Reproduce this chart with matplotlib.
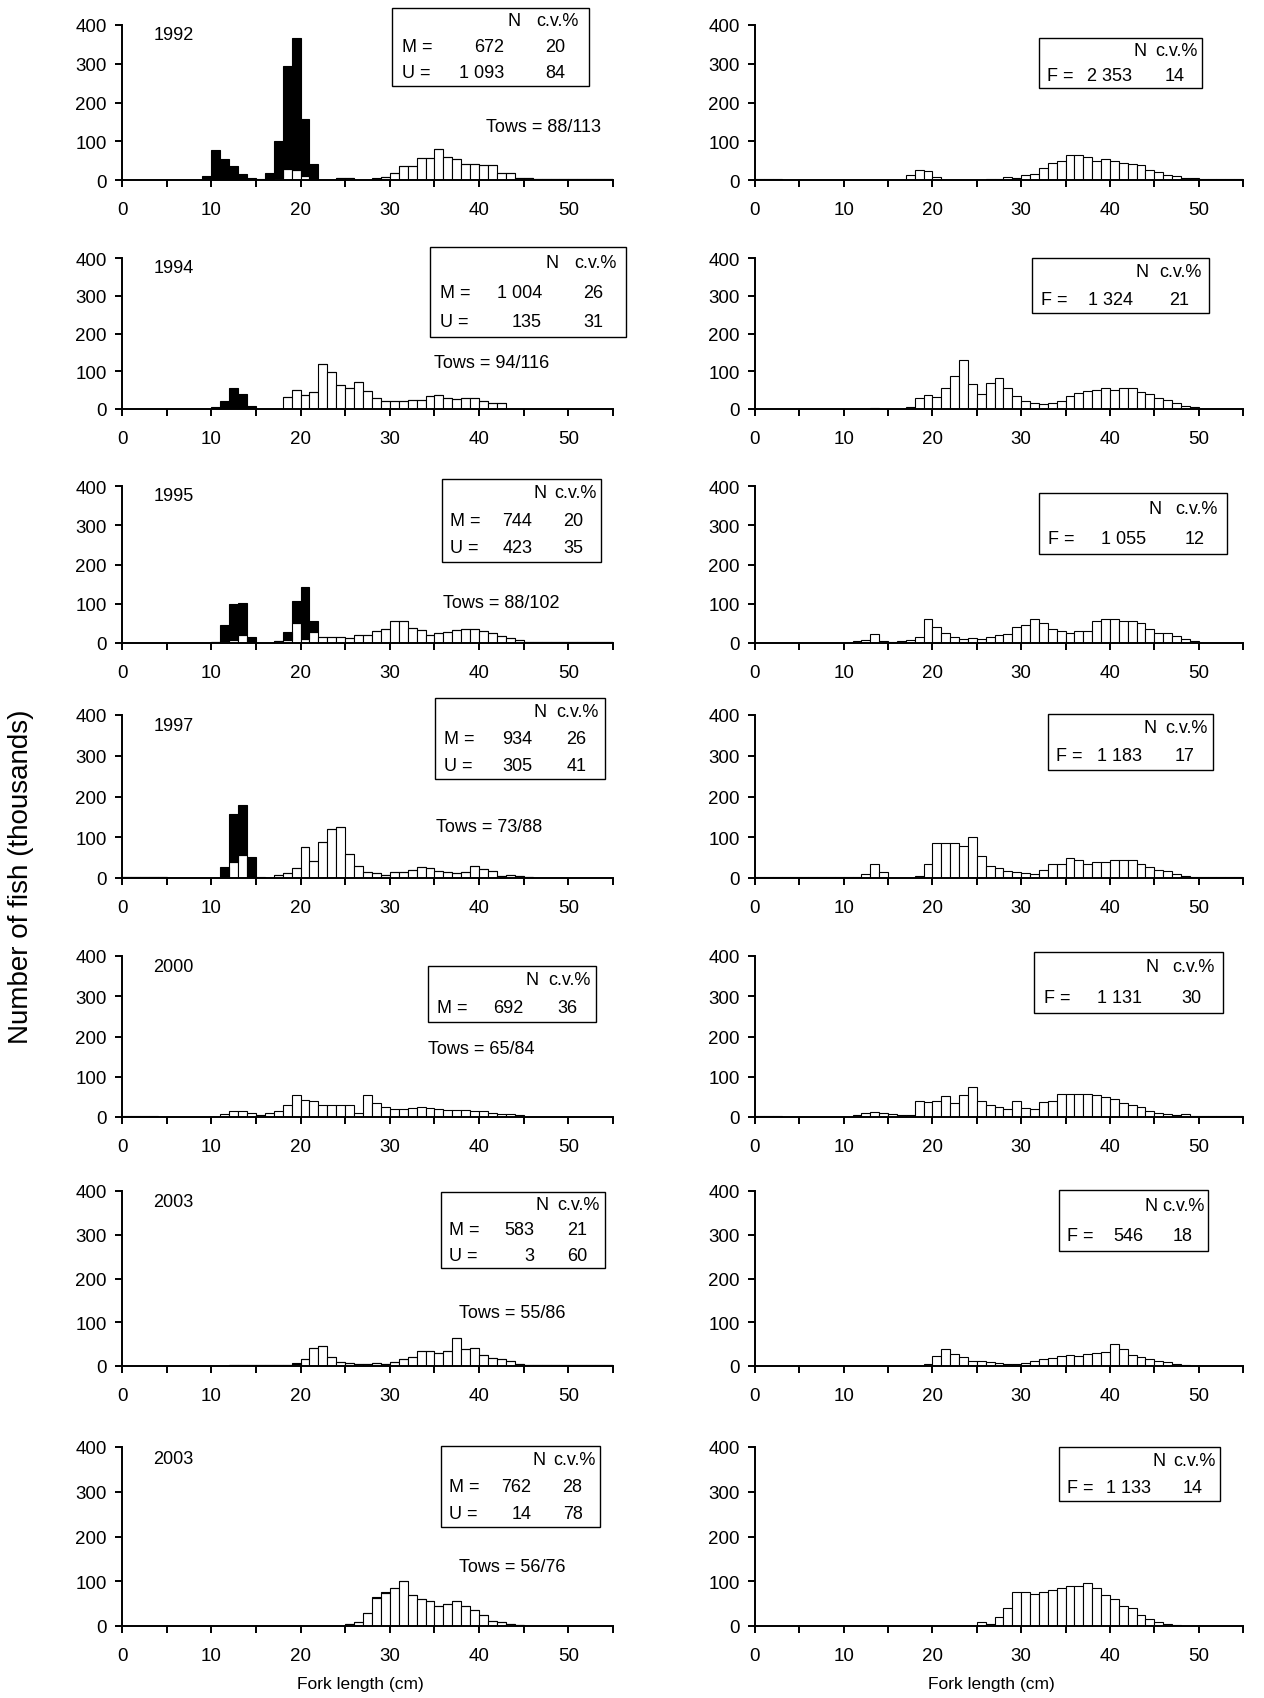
import numpy as np
import matplotlib
matplotlib.use("Agg")
import matplotlib.pyplot as plt
from matplotlib.patches import Rectangle
from matplotlib.ticker import MultipleLocator

plt.rcParams["font.family"] = ["Liberation Sans", "DejaVu Sans"]

# lower edge (cm) of each 1-cm fork length class
length_cm = np.arange(55)

# ---- numbers at length, thousands (M = males, U = unsexed, F = females) ----
m_1992 = [0, 0, 0, 0, 0, 1, 1, 1, 1, 2,
          2, 2, 1, 1, 0, 0, 2, 5, 28, 25,
          10, 3, 0, 0, 4, 4, 0, 0, 3, 8,
          18, 35, 35, 56, 56, 80, 60, 55, 42, 42,
          39, 39, 19, 17, 5, 4, 2, 2, 2, 2,
          2, 2, 2, 2, 2]
u_1992 = [0, 0, 0, 0, 0, 0, 0, 0, 0, 8,
          76, 52, 34, 14, 4, 3, 15, 95, 267, 342,
          148, 39, 0, 0, 2, 2, 0, 0, 2, 0,
          0, 0, 0, 0, 0, 0, 0, 0, 0, 0,
          0, 0, 0, 0, 0, 0, 0, 0, 0, 0,
          0, 0, 0, 0, 0]
f_1992 = [2, 2, 2, 1, 0, 0, 0, 0, 0, 0,
          0, 0, 0, 0, 0, 0, 0, 12, 25, 22,
          8, 0, 0, 0, 0, 0, 2, 3, 8, 5,
          12, 15, 30, 45, 50, 65, 65, 60, 50, 55,
          50, 45, 42, 40, 25, 20, 12, 10, 5, 5,
          3, 3, 3, 3, 3]

m_1994 = [0, 1, 1, 1, 1, 1, 1, 1, 1, 1,
          2, 2, 3, 3, 2, 0, 0, 0, 33, 51,
          38, 44, 119, 97, 64, 55, 72, 47, 30, 22,
          22, 22, 25, 25, 35, 38, 29, 27, 29, 29,
          22, 16, 16, 0, 0, 0, 0, 0, 0, 0,
          0, 0, 0, 0, 0]
u_1994 = [0, 0, 0, 0, 0, 0, 0, 0, 0, 0,
          3, 20, 52, 37, 6, 0, 0, 0, 0, 0,
          0, 0, 0, 0, 0, 0, 0, 0, 0, 0,
          0, 0, 0, 0, 0, 0, 0, 0, 0, 0,
          0, 0, 0, 0, 0, 0, 0, 0, 0, 0,
          0, 0, 0, 0, 0]
f_1994 = [0, 0, 0, 0, 0, 0, 0, 0, 0, 0,
          0, 0, 0, 3, 0, 0, 0, 5, 28, 38,
          33, 55, 88, 130, 65, 40, 70, 82, 55, 35,
          20, 15, 12, 15, 20, 35, 42, 48, 50, 55,
          50, 55, 55, 45, 40, 30, 25, 15, 8, 5,
          0, 0, 0, 0, 0]

m_1995 = [0, 0, 0, 0, 0, 0, 0, 0, 0, 0,
          3, 5, 8, 20, 3, 0, 0, 5, 8, 52,
          10, 27, 15, 15, 15, 12, 20, 20, 30, 35,
          55, 55, 38, 32, 20, 25, 28, 33, 35, 35,
          30, 25, 18, 12, 8, 3, 3, 3, 3, 3,
          3, 3, 3, 3, 3]
u_1995 = [0, 0, 0, 0, 0, 0, 0, 0, 0, 0,
          0, 40, 92, 83, 13, 0, 0, 0, 20, 56,
          132, 30, 0, 0, 0, 0, 0, 0, 0, 0,
          0, 0, 0, 0, 0, 0, 0, 0, 0, 0,
          0, 0, 0, 0, 0, 0, 0, 0, 0, 0,
          0, 0, 0, 0, 0]
f_1995 = [0, 0, 0, 0, 0, 0, 0, 0, 0, 0,
          0, 5, 8, 22, 5, 3, 5, 8, 15, 60,
          42, 25, 15, 10, 12, 10, 15, 20, 22, 40,
          45, 62, 50, 35, 30, 25, 30, 30, 55, 60,
          60, 55, 55, 50, 35, 25, 25, 18, 10, 5,
          0, 0, 0, 0, 0]

m_1997 = [2, 2, 2, 2, 2, 0, 0, 0, 0, 0,
          0, 0, 40, 57, 0, 0, 0, 8, 12, 25,
          75, 42, 88, 120, 125, 60, 30, 15, 12, 8,
          15, 15, 20, 28, 25, 18, 15, 12, 15, 30,
          22, 18, 5, 8, 5, 3, 0, 0, 0, 0,
          0, 0, 0, 0, 0]
u_1997 = [0, 0, 0, 0, 0, 0, 0, 0, 0, 0,
          0, 27, 117, 123, 52, 3, 0, 0, 0, 0,
          0, 0, 0, 0, 0, 0, 0, 0, 0, 0,
          0, 0, 0, 0, 0, 0, 0, 0, 0, 0,
          0, 0, 0, 0, 0, 0, 0, 0, 0, 0,
          0, 0, 0, 0, 0]
f_1997 = [2, 2, 2, 2, 2, 2, 2, 2, 2, 2,
          2, 2, 10, 35, 15, 0, 0, 0, 5, 35,
          85, 85, 85, 78, 100, 55, 30, 25, 18, 15,
          12, 10, 20, 35, 35, 50, 45, 35, 40, 40,
          45, 45, 45, 35, 28, 20, 18, 10, 5, 3,
          3, 3, 3, 3, 3]

m_2000 = [2, 2, 2, 2, 1, 0, 0, 0, 0, 0,
          0, 8, 15, 15, 10, 5, 10, 15, 30, 55,
          43, 40, 30, 30, 30, 30, 10, 55, 35, 25,
          20, 20, 22, 25, 22, 20, 18, 18, 18, 15,
          15, 10, 8, 8, 5, 0, 0, 0, 0, 0,
          0, 0, 0, 0, 0]
f_2000 = [2, 2, 2, 0, 0, 0, 0, 0, 0, 0,
          0, 5, 10, 12, 10, 8, 5, 5, 40, 38,
          40, 52, 35, 55, 75, 40, 30, 25, 20, 40,
          22, 20, 38, 40, 58, 58, 58, 58, 55, 50,
          45, 35, 30, 25, 15, 10, 8, 5, 8, 3,
          3, 3, 3, 3, 3]

m_2003 = [0, 0, 0, 0, 0, 0, 0, 0, 0, 0,
          0, 0, 2, 2, 2, 2, 2, 2, 2, 5,
          15, 42, 45, 20, 10, 8, 5, 5, 8, 5,
          10, 15, 20, 35, 35, 30, 35, 65, 40, 42,
          25, 18, 15, 12, 5, 2, 2, 2, 2, 2,
          2, 2, 2, 2, 2]
u_2003 = [0, 0, 0, 0, 0, 0, 0, 0, 0, 0,
          0, 0, 0, 0, 0, 0, 0, 0, 0, 1,
          2, 0, 0, 0, 0, 0, 0, 0, 0, 0,
          0, 0, 0, 0, 0, 0, 0, 0, 0, 0,
          0, 0, 0, 0, 0, 0, 0, 0, 0, 0,
          0, 0, 0, 0, 0]
f_2003 = [0, 0, 0, 0, 0, 0, 0, 0, 0, 0,
          0, 0, 0, 0, 0, 0, 0, 0, 0, 5,
          22, 38, 28, 20, 12, 12, 10, 8, 5, 5,
          8, 12, 15, 18, 22, 25, 22, 28, 30, 32,
          50, 40, 25, 20, 15, 12, 10, 5, 3, 0,
          0, 0, 0, 0, 0]

m_2003b = [0, 0, 0, 0, 0, 0, 0, 0, 0, 0,
           0, 0, 0, 0, 0, 0, 0, 0, 0, 0,
           0, 0, 0, 0, 0, 5, 10, 28, 63, 73,
           85, 100, 70, 60, 55, 45, 50, 55, 45, 35,
           25, 12, 8, 5, 3, 0, 0, 0, 0, 0,
           0, 0, 0, 0, 0]
u_2003b = [0, 0, 0, 0, 0, 0, 0, 0, 0, 0,
           0, 0, 0, 0, 0, 0, 0, 0, 0, 0,
           0, 0, 0, 0, 0, 0, 0, 2, 2, 2,
           0, 0, 0, 0, 0, 0, 0, 0, 0, 0,
           0, 0, 0, 0, 0, 0, 0, 0, 0, 0,
           0, 0, 0, 0, 0]
f_2003b = [0, 0, 0, 0, 0, 0, 0, 0, 0, 0,
           0, 0, 0, 0, 0, 0, 0, 0, 0, 0,
           0, 0, 0, 0, 0, 10, 5, 20, 40, 75,
           75, 72, 75, 80, 85, 90, 90, 95, 85, 70,
           60, 45, 40, 25, 15, 8, 5, 3, 0, 0,
           0, 0, 0, 0, 0]

years = ["1992", "1994", "1995", "1997", "2000", "2003", "2003"]
tows = ["88/113", "94/116", "88/102", "73/88", "65/84", "55/86", "56/76"]
# (N, c.v.%) for males, unsexed, females
m_stats = [("672", "20"), ("1 004", "26"), ("744", "20"), ("934", "26"),
           ("692", "36"), ("583", "21"), ("762", "28")]
u_stats = [("1 093", "84"), ("135", "31"), ("423", "35"), ("305", "41"),
           None, ("3", "60"), ("14", "78")]
f_stats = [("2 353", "14"), ("1 324", "21"), ("1 055", "12"), ("1 183", "17"),
           ("1 131", "30"), ("546", "18"), ("1 133", "14")]

male_rows = [m_1992, m_1994, m_1995, m_1997, m_2000, m_2003, m_2003b]
unsexed_rows = [u_1992, u_1994, u_1995, u_1997, None, u_2003, u_2003b]
female_rows = [f_1992, f_1994, f_1995, f_1997, f_2000, f_2003, f_2003b]

# ---- layout (pixels of the 1264 x 1699 page) ----
W, H = 1264, 1699
row_px = [(26, 181), (259, 410), (487, 644), (716, 879),
          (957, 1118), (1192, 1367), (1448, 1627)]
left_px, right_px = (122, 613), (755, 1243)
# stats box (x0, x1, y0, y1) in data units
left_box = [(30.3, 52.3, 243, 445), (34.5, 56.5, 191, 428), (35.8, 53.6, 207, 419),
            (35.1, 54.1, 244, 442), (34.3, 53.1, 237, 375), (35.7, 54.1, 224, 398),
            (35.7, 53.5, 221, 403)]
right_box = [(32.0, 50.4, 238, 366), (31.2, 51.2, 254, 400), (32.0, 53.2, 228, 381),
             (33.0, 51.6, 265, 403), (31.5, 52.8, 259, 411), (34.3, 51.0, 263, 402),
             (34.3, 52.4, 279, 400)]
tows_xy = [(40.8, 137), (35.0, 123), (36.0, 102), (35.2, 127),
           (34.3, 170), (37.8, 122), (37.8, 133)]

FS = 13


def style_axis(ax):
    ax.set_xlim(0, 55)
    ax.set_ylim(0, 400)
    for s in ("top", "right"):
        ax.spines[s].set_visible(False)
    for s in ("left", "bottom"):
        ax.spines[s].set_linewidth(1.4)
    ax.xaxis.set_major_locator(MultipleLocator(10))
    ax.xaxis.set_minor_locator(MultipleLocator(5))
    ax.yaxis.set_major_locator(MultipleLocator(100))
    ax.tick_params(axis="both", which="both", direction="out", length=5,
                   width=1.4, labelsize=13.5, pad=6)
    ax.tick_params(axis="x", which="major", pad=10)


def stats_box(ax, box, rows):
    x0, x1, y0, y1 = box
    w, h = x1 - x0, y1 - y0
    ax.add_patch(Rectangle((x0, y0), w, h, fill=True, fc="white", ec="black",
                           lw=1.0, clip_on=False, zorder=5))
    n = len(rows) + 1
    ys = [y1 - h * (i + 0.5) / n for i in range(n)]
    kw = dict(fontsize=FS, va="center", clip_on=False, zorder=6)
    ax.text(x0 + 0.62 * w, ys[0], "N", ha="center", **kw)
    ax.text(x0 + 0.84 * w, ys[0], "c.v.%", ha="center", **kw)
    for y, (lab, (nval, cv)) in zip(ys[1:], rows):
        ax.text(x0 + 0.05 * w, y, f"{lab} =", ha="left", **kw)
        ax.text(x0 + 0.57 * w, y, nval, ha="right", **kw)
        ax.text(x0 + 0.83 * w, y, cv, ha="center", **kw)


fig = plt.figure(figsize=(W / 100, H / 100), dpi=100)

for i, (top, bot) in enumerate(row_px):
    b = 1 - bot / H
    h = (bot - top) / H
    axl = fig.add_axes([left_px[0] / W, b, (left_px[1] - left_px[0]) / W, h])
    axr = fig.add_axes([right_px[0] / W, b, (right_px[1] - right_px[0]) / W, h])

    m = np.array(male_rows[i])
    axl.bar(length_cm, m, width=1, align="edge", color="white",
            edgecolor="black", linewidth=0.8)
    if unsexed_rows[i] is not None:
        axl.bar(length_cm, unsexed_rows[i], width=1, align="edge", bottom=m,
                color="black", edgecolor="black", linewidth=0.8)
    axr.bar(length_cm, female_rows[i], width=1, align="edge", color="white",
            edgecolor="black", linewidth=0.8)

    style_axis(axl)
    style_axis(axr)

    axl.text(3.5, 375, years[i], fontsize=FS, va="center")
    tx, ty = tows_xy[i]
    axl.text(tx, ty, f"Tows = {tows[i]}", fontsize=FS, va="center")

    rows = [("M", m_stats[i])]
    if u_stats[i] is not None:
        rows.append(("U", u_stats[i]))
    stats_box(axl, left_box[i], rows)
    stats_box(axr, right_box[i], [("F", f_stats[i])])

fig.text(0.017, 0.484, "Number of fish (thousands)", rotation=90,
         fontsize=20, ha="center", va="center")
fig.text(0.285, 0.004, "Fork length (cm)", fontsize=12.5, ha="center", va="bottom")
fig.text(0.784, 0.004, "Fork length (cm)", fontsize=12.5, ha="center", va="bottom")

fig.savefig("out.png", dpi=100)
